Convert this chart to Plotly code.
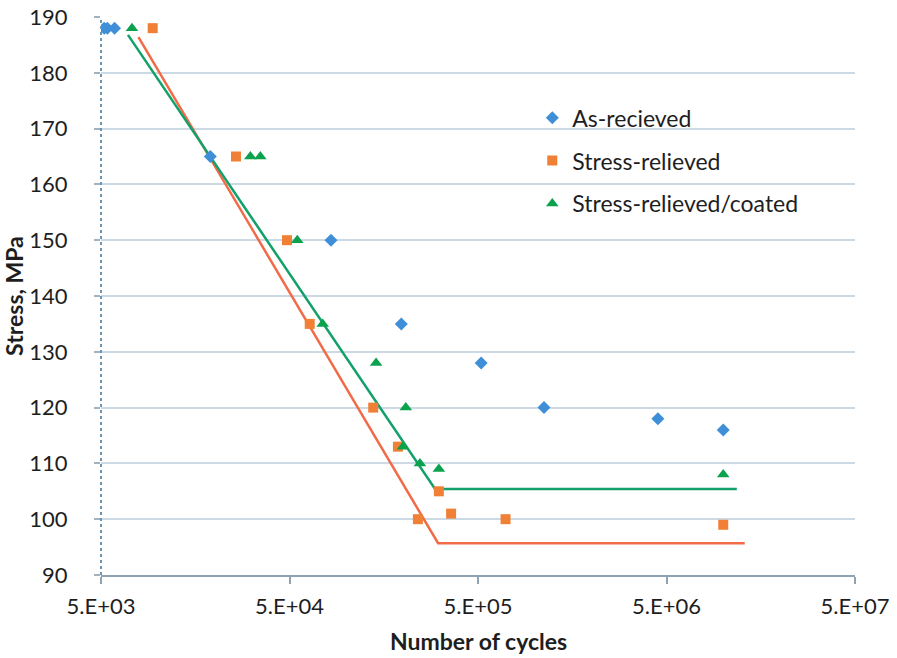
import plotly.graph_objects as go
import numpy as np

# As-received
ar_cycles = [5.2e3, 5.4e3, 5.9e3, 1.9e4, 8.3e4, 1.96e5, 5.2e5, 1.12e6, 4.5e6, 1.0e7]
ar_stress = [188, 188, 188, 165, 150, 135, 128, 120, 118, 116]

# Stress-relieved
sr_cycles = [9.4e3, 2.6e4, 4.85e4, 6.4e4, 1.39e5, 1.88e5, 2.4e5, 3.1e5, 3.6e5, 7.0e5, 1.0e7]
sr_stress = [188, 165, 150, 135, 120, 113, 100, 105, 101, 100, 99]

# Stress-relieved/coated
src_cycles = [7.3e3, 3.1e4, 3.5e4, 5.5e4, 7.5e4, 1.44e5, 2.07e5, 2.0e5, 2.46e5, 3.1e5, 1.0e7]
src_stress = [188, 165, 165, 150, 135, 128, 120, 113, 110, 109, 108]

# Bilinear fit lines
sr_fit_cycles = [7.9e3, 3.07e5, 1.3e7]
sr_fit_stress = [186.4, 95.7, 95.7]
src_fit_cycles = [6.95e3, 2.96e5, 1.18e7]
src_fit_stress = [186.8, 105.4, 105.4]

x_tickvals = [5e3, 5e4, 5e5, 5e6, 5e7]
x_ticktext = ["5.E+03", "5.E+04", "5.E+05", "5.E+06", "5.E+07"]
y_tickvals = [90, 100, 110, 120, 130, 140, 150, 160, 170, 180, 190]

FONT = "Lato"
TXT = "#1E1E1E"
BLUE = "#3F8FD8"
ORANGE = "#EF8035"
GREEN = "#0BA24E"
ORANGE_LINE = "#F26B48"
GREEN_LINE = "#14A06A"
GRID = "#CCDAE5"

fig = go.Figure()

fig.add_trace(go.Scatter(x=sr_fit_cycles, y=sr_fit_stress, mode="lines",
                         line=dict(color=ORANGE_LINE, width=2.5), showlegend=False, hoverinfo="skip"))
fig.add_trace(go.Scatter(x=src_fit_cycles, y=src_fit_stress, mode="lines",
                         line=dict(color=GREEN_LINE, width=2.5), showlegend=False, hoverinfo="skip"))

fig.add_trace(go.Scatter(x=ar_cycles, y=ar_stress, mode="markers", name="As-recieved",
                         legendgroup="a",
                         marker=dict(symbol="diamond", size=10, color=BLUE)))
fig.add_trace(go.Scatter(x=sr_cycles, y=sr_stress, mode="markers", name="Stress-relieved",
                         legendgroup="b",
                         marker=dict(symbol="square", size=10, color=ORANGE)))
fig.add_trace(go.Scatter(x=src_cycles, y=src_stress, mode="markers", name="Stress-relieved/coated",
                         legendgroup="c",
                         marker=dict(symbol="triangle-up", size=11, color=GREEN)))

fig.update_layout(
    width=897, height=658,
    margin=dict(l=101, r=42, t=17, b=83),
    paper_bgcolor="white", plot_bgcolor="white",
    font=dict(family=FONT, size=22, color=TXT),
    legend=dict(x=0.572, y=0.858, xanchor="left", yanchor="top",
                bgcolor="rgba(0,0,0,0)", tracegroupgap=10,
                font=dict(family=FONT, size=23, color=TXT)),
    xaxis=dict(type="log", range=[np.log10(5e3), np.log10(5e7)],
               tickvals=x_tickvals, ticktext=x_ticktext,
               showgrid=False, zeroline=False, automargin=False,
               showline=True, linecolor="#8FA3B3", linewidth=2,
               ticks="outside", ticklen=7, tickwidth=2, tickcolor="#8FA3B3",
               ticklabelstandoff=4,
               tickfont=dict(family=FONT, size=22, color=TXT)),
    yaxis=dict(range=[90, 190], tickvals=y_tickvals,
               showgrid=True, gridcolor=GRID, gridwidth=1.5,
               zeroline=False, showline=False, automargin=False,
               ticks="outside", ticklen=6, tickwidth=1.5, tickcolor="#9FB3C2",
               ticklabelstandoff=22,
               tickfont=dict(family=FONT, size=22, color=TXT)),
    annotations=[
        dict(text="<b>Number of cycles</b>", xref="paper", yref="paper",
             x=0.5, y=-0.118, xanchor="center", yanchor="middle", showarrow=False,
             font=dict(family=FONT, size=23, color=TXT)),
        dict(text="<b>Stress, MPa</b>", xref="paper", yref="paper",
             x=-0.1155, y=0.5, xanchor="center", yanchor="middle", showarrow=False,
             textangle=-90, font=dict(family=FONT, size=23, color=TXT)),
    ],
    shapes=[
        dict(type="line", xref="paper", yref="paper", x0=0, x1=0, y0=0, y1=1,
             line=dict(color="#6F94B0", width=2, dash="dot"), layer="above"),
    ],
)

fig.write_html("out.html")
